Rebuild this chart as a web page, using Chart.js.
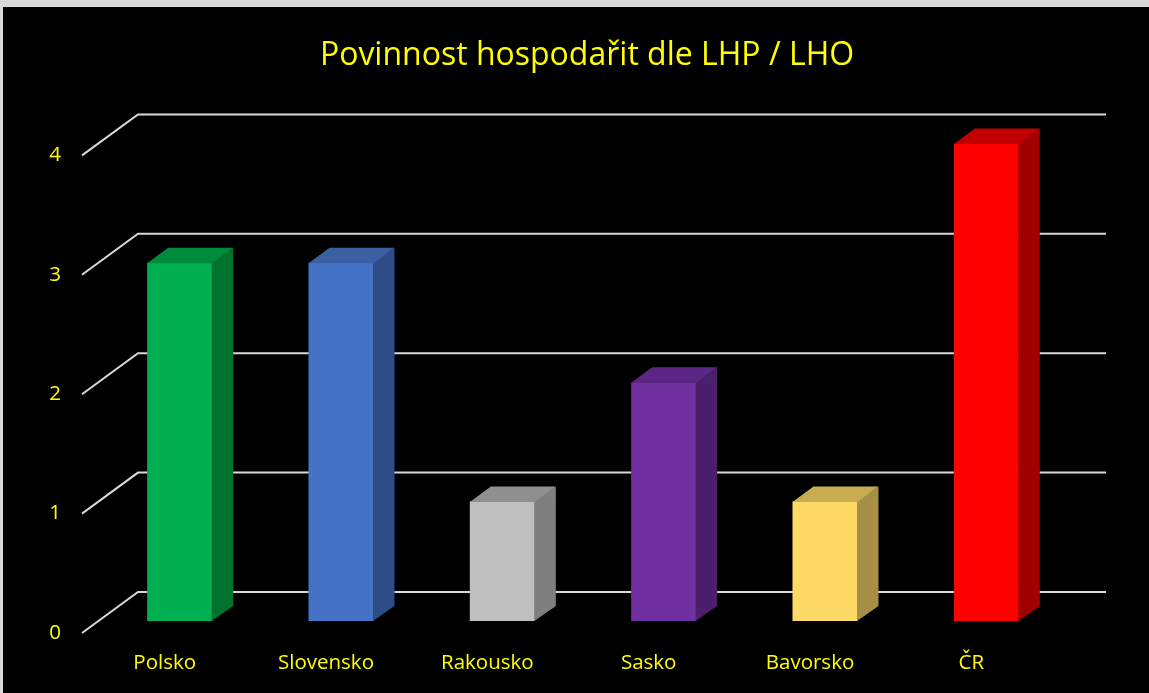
<!DOCTYPE html>
<html>
<head>
<meta charset="utf-8">
<script src="https://cdn.jsdelivr.net/npm/chart.js@4.4.1/dist/chart.umd.min.js"></script>
<style>
    body { margin: 0; background: #d9d9d9; }
    #wrap { position: absolute; left: 3px; top: 7px; width: 1146px; height: 686px; background: #000; }
</style>
</head>
<body>
<div id="wrap"><canvas id="myChart" width="1146" height="686"></canvas></div>
<script>
const countries = ['Polsko', 'Slovensko', 'Rakousko', 'Sasko', 'Bavorsko', 'ČR'];
const values = [3, 3, 1, 2, 1, 4];
const frontColors = ['#00B050', '#4472C4', '#BFBFBF', '#7030A0', '#FFD966', '#FF0000'];
const topColors = ['#008A3D', '#3A5FA3', '#8F8F8F', '#5B2685', '#C9AB52', '#C00000'];
const sideColors = ['#00732F', '#2E4C86', '#7F7F7F', '#4A1F6C', '#A68F47', '#A00000'];

// depth of the bars and of the back wall
const barDx = 21, barDy = 15;
const wallFront = { dx: -17, dy: 12 };
const wallBack = { dx: 39, dy: -29 };

const gridPlugin = {
    id: 'grid3d',
    afterLayout(chart) {
        // centre the title over the whole picture, not only the plot
        if (chart.titleBlock) {
            chart.titleBlock.left = 0;
            chart.titleBlock.right = 1168;
        }
    },
    beforeDatasetsDraw(chart) {
        const ctx = chart.ctx;
        const y = chart.scales.y;
        const area = chart.chartArea;
        ctx.save();
        ctx.strokeStyle = '#D9D9D9';
        ctx.lineWidth = 2;
        y.ticks.forEach(t => {
            const p = y.getPixelForValue(t.value);
            ctx.beginPath();
            ctx.moveTo(area.left + wallFront.dx, p + wallFront.dy);
            ctx.lineTo(area.left + wallBack.dx, p + wallBack.dy);
            ctx.lineTo(area.right + wallBack.dx, p + wallBack.dy);
            ctx.stroke();
        });
        ctx.restore();
    },
    afterDatasetsDraw(chart) {
        const ctx = chart.ctx;
        const meta = chart.getDatasetMeta(0);
        ctx.save();
        meta.data.forEach((bar, i) => {
            const half = bar.width / 2;
            const l = bar.x - half, r = bar.x + half;
            // side
            ctx.fillStyle = sideColors[i];
            ctx.beginPath();
            ctx.moveTo(r - 0.5, bar.y);
            ctx.lineTo(r + barDx, bar.y - barDy);
            ctx.lineTo(r + barDx, bar.base - barDy);
            ctx.lineTo(r - 0.5, bar.base);
            ctx.closePath();
            ctx.fill();
            // top
            ctx.fillStyle = topColors[i];
            ctx.beginPath();
            ctx.moveTo(l, bar.y + 0.5);
            ctx.lineTo(l + barDx, bar.y - barDy);
            ctx.lineTo(r + barDx, bar.y - barDy);
            ctx.lineTo(r, bar.y + 0.5);
            ctx.closePath();
            ctx.fill();
        });
        ctx.restore();
    }
};

const ctx = document.getElementById('myChart').getContext('2d');
new Chart(ctx, {
    type: 'bar',
    data: {
        labels: countries,
        datasets: [{
            data: values,
            backgroundColor: frontColors,
            borderWidth: 0,
            barPercentage: 0.403,
            categoryPercentage: 1
        }]
    },
    plugins: [gridPlugin],
    options: {
        responsive: false,
        animation: false,
        layout: { padding: { left: 0, right: 82, top: 0, bottom: 0 } },
        plugins: {
            legend: { display: false },
            tooltip: { enabled: false },
            title: {
                display: true,
                text: 'Povinnost hospodařit dle LHP / LHO',
                color: '#FFFF00',
                font: { family: 'Open Sans', size: 32, weight: 'normal' },
                padding: { top: 30, bottom: 68 }
            }
        },
        scales: {
            x: {
                grid: { display: false, drawTicks: false },
                border: { display: false },
                ticks: {
                    color: '#FFFF00',
                    font: { family: 'Open Sans', size: 20.5 },
                    labelOffset: -15,
                    padding: 30
                },
                afterFit(scale) { scale.height = 72; }
            },
            y: {
                min: 0,
                max: 4,
                grid: { display: false, drawTicks: false },
                border: { display: false },
                ticks: {
                    stepSize: 1,
                    color: '#FFFF00',
                    font: { family: 'Open Sans', size: 20.5 },
                    labelOffset: 12,
                    padding: 38
                },
                afterFit(scale) { scale.width = 96; }
            }
        }
    }
});
</script>
</body>
</html>
